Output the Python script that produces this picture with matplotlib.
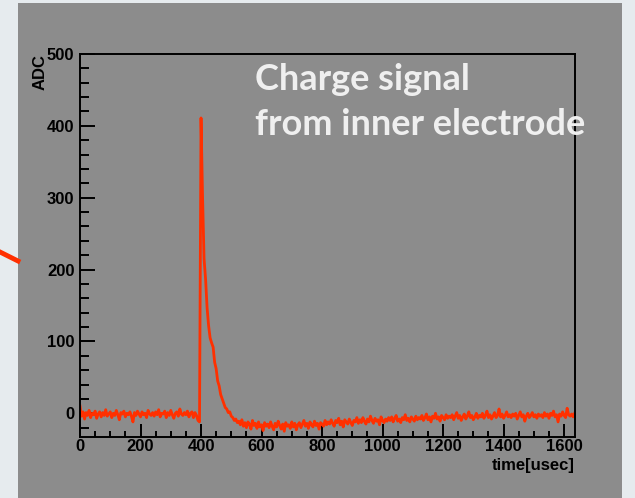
import numpy as np
import matplotlib.pyplot as plt
from matplotlib.patches import Rectangle
from matplotlib.lines import Line2D
from matplotlib.ticker import MultipleLocator

# sampled every 5 usec
dt = 5
pre_trigger = [10, -4, 2, -8, 1, -3, 4, -6, 0, -2, 3, -7, -1, 2, -5, 1, -3, 5, -4, -1,
               2, -6, 0, -3, 4, -2, -9, 1, -1, 3, -5, 0, -2, 2, -4, -12, 1, -3, 3, -1,
               -5, 2, -2, 0, -6, 4, -1, -3, 1, -4, 2, -2, 5, -5, 0, -1, 3, -6, 1, -3,
               4, -2, -7, 0, 2, -4, 6, -1, -3, 1, -2, 3, -5, 0, 2, -6, 1, -3, -10, -12]
pulse = [411, 302, 215, 187, 147, 122, 105, 98, 92, 71, 62, 45, 38, 26, 20, 14, 8, 6, 1, 2,
         -4, -6, -10, -8, -13]
tail = [-11, -16, -9, -18, -13, -20, -12, -15, -22, -10, -17, -14, -21, -12, -19, -16, -24, -13, -18, -15,
        -20, -12, -18, -23, -14, -19, -11, -17, -22, -15, -25, -13, -18, -16, -21, -12, -19, -14, -23, -16,
        -13, -20, -15, -10, -18, -14, -21, -12, -16, -19, -11, -17, -14, -22, -13, -15, -18, -10, -16, -12,
        -15, -9, -14, -18, -10, -13, -7, -16, -11, -19, -9, -12, -15, -8, -13, -17, -10, -12, -6, -14,
        -9, -13, -6, -11, -15, -8, -12, -4, -10, -14, -7, -11, -9, -16, -5, -10, -13, -8, -11, -6,
        -10, -5, -12, -7, -3, -11, -8, -13, -6, -9, -2, -10, -7, -12, -5, -8, -11, -4, -9, -6,
        -8, -3, -10, -6, -1, -9, -5, -12, -4, -7, 0, -8, -5, -11, -3, -6, -9, -2, -7, -4,
        -6, -2, -9, -4, 1, -7, -3, -10, -5, -1, -8, -4, 2, -6, -3, -9, -5, 0, -7, -3,
        -5, 0, -7, -3, 3, -6, -2, -8, -4, 1, -6, -3, 6, -5, -1, -7, -3, 2, -5, -2,
        -6, -1, -4, 0, -8, -3, 2, -5, -2, -11, -4, 0, -6, -3, 1, -5, -2, -7, -1, -4,
        -2, -6, 1, -4, -1, -7, 0, -3, 3, -5, -2, -12, -1, -4, 2, -3, -6, 7, -2, -4,
        -1, -5, 0]

adc = np.array(pre_trigger + pulse + tail)
t = np.arange(len(adc)) * dt

W, H = 635, 498
fig = plt.figure(figsize=(W / 100, H / 100), dpi=100, facecolor='#e6ebee')

# gray panel + red pointer on the left
fig.add_artist(Rectangle((18 / W, 0), 604 / W, 495 / H, transform=fig.transFigure,
                         facecolor='#8c8c8c', edgecolor='none', zorder=-5))
fig.add_artist(Line2D([0, 18 / W], [1 - 252 / H, 1 - 261 / H], transform=fig.transFigure,
                      color='#ff3000', lw=3.5, zorder=-4))

ax = fig.add_axes([80 / W, 1 - 437 / H, 495 / W, 383 / H])
ax.set_zorder(1)
ax.set_facecolor('#8c8c8c')
ax.plot(t, adc, color='#ff3000', lw=2.0)

ax.set_xlim(0, 1636)
ax.set_ylim(-33, 500)
ax.xaxis.set_major_locator(MultipleLocator(200))
ax.xaxis.set_minor_locator(MultipleLocator(50))
ax.yaxis.set_major_locator(MultipleLocator(100))
ax.yaxis.set_minor_locator(MultipleLocator(20))

for s in ax.spines.values():
    s.set_linewidth(1.4)
    s.set_color('black')

lab = dict(family='Liberation Sans', weight='bold', size=12)
ax.tick_params(axis='y', which='major', direction='in', length=11, width=1.4, pad=4)
ax.tick_params(axis='y', which='minor', direction='in', length=6.5, width=1.4)
ax.tick_params(axis='x', which='major', direction='in', length=9.5, width=1.4, pad=1.5)
ax.tick_params(axis='x', which='minor', direction='in', length=4.5, width=1.4)
for lbl in ax.get_xticklabels() + ax.get_yticklabels():
    lbl.set_fontfamily('Liberation Sans')
    lbl.set_fontsize(12)
    lbl.set_fontweight('bold')

ax.text(-0.081, 1.0, 'ADC', transform=ax.transAxes, rotation=90, ha='center', va='top', **lab)
ax.text(1.0, -0.075, 'time[usec]', transform=ax.transAxes, ha='right', va='center', **lab)

note = dict(family='Lato', weight='bold', size=26, color='#efefef', zorder=5)
fig.text(255 / W, 1 - 90 / H, 'Charge signal', va='baseline', ha='left', **note)
fig.text(255 / W, 1 - 135 / H, 'from inner electrode', va='baseline', ha='left', **note)

fig.savefig('out.png', dpi=100, facecolor=fig.get_facecolor())
